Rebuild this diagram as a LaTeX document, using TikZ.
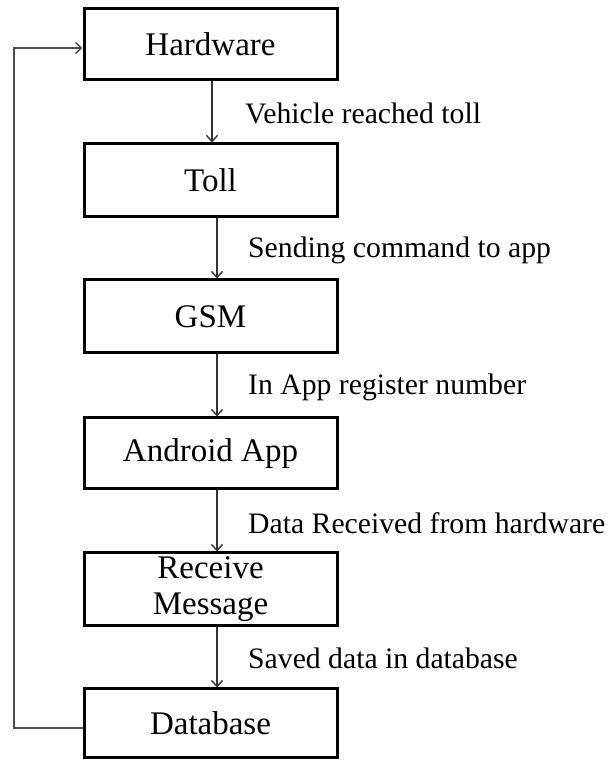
\documentclass[tikz,border=0pt]{standalone}
\usepackage{fontspec}
\setmainfont{Liberation Serif}
\usetikzlibrary{arrows.meta}
\begin{document}
\begin{tikzpicture}[x=1pt,y=1pt,
  stagebox/.style={draw=black, line width=3pt, minimum width=253pt, inner sep=0pt,
    font=\fontsize{33}{36}\selectfont, align=center},
  flowlabel/.style={anchor=west, inner sep=0pt, font=\fontsize{29.7}{32}\selectfont},
  flowarrow/.style={draw=black!80, line width=1.4pt, -{Straight Barb[length=6pt,width=11pt,line width=1.4pt]}}
]
\useasboundingbox (0,0) rectangle (609,760);
\node[stagebox, minimum height=71pt] (hw) at (210.5,715.5) {Hardware};
\node[stagebox, minimum height=73pt] (toll) at (210.5,579.5) {Toll};
\node[stagebox, minimum height=73pt] (gsm) at (210.5,443.5) {GSM};
\node[stagebox, minimum height=71pt] (app) at (210.5,306.5) {Android App};
\node[stagebox, minimum height=73pt] (rcv) at (210.5,170.5) {Receive\\Message};
\node[stagebox, minimum height=69pt] (db) at (210.5,36.5) {Database};

\draw[flowarrow] ([xshift=1.5pt]hw.south) -- ([xshift=1.5pt]toll.north);
\draw[flowarrow] ([xshift=6.5pt]toll.south) -- ([xshift=6.5pt]gsm.north);
\draw[flowarrow] ([xshift=6.5pt]gsm.south) -- ([xshift=6.5pt]app.north);
\draw[flowarrow] ([xshift=6.5pt]app.south) -- ([xshift=6.5pt]rcv.north);
\draw[flowarrow] ([xshift=6.5pt]rcv.south) -- ([xshift=6.5pt]db.north);

\coordinate (fbl) at (14,32);
\draw[flowarrow, draw=black!70] ([yshift=-4.5pt]db.west) -- (fbl) |- ([yshift=-3.5pt]hw.west);

\node[flowlabel] (l1) at (245,647) {Vehicle reached toll};
\node[flowlabel] (l2) at (248,510) {Sending command to app};
\node[flowlabel] (l3) at (248,373) {In App register number};
\node[flowlabel] (l4) at (248,237) {Data Received from hardware};
\node[flowlabel] (l5) at (248,102) {Saved data in database};
\end{tikzpicture}
\end{document}
